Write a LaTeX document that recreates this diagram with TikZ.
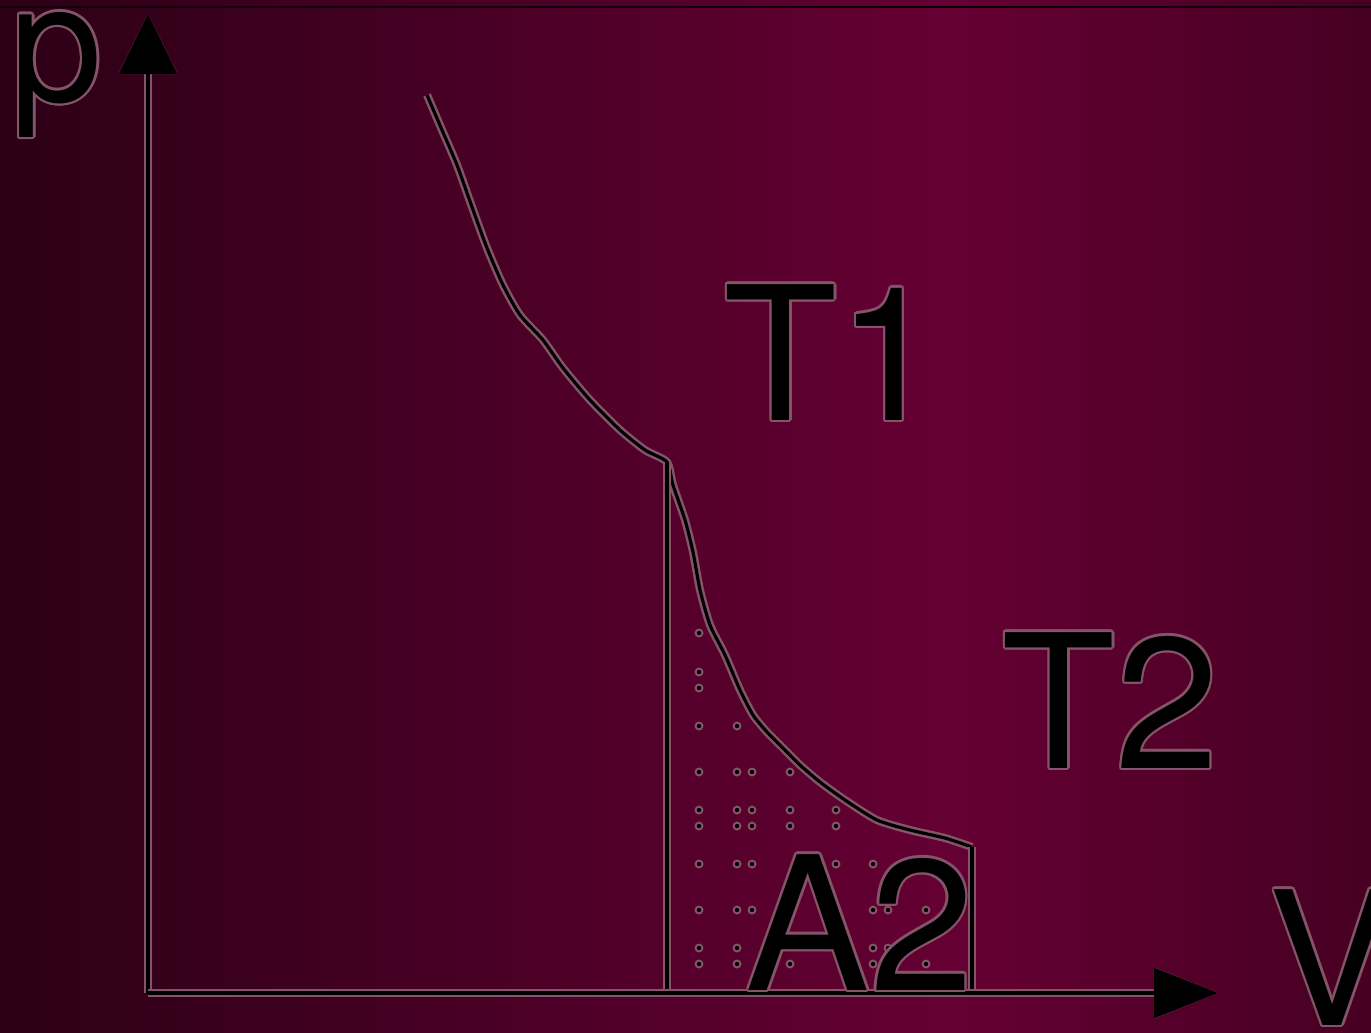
\documentclass[tikz,border=0pt]{standalone}
\usepackage{fontspec}
\setmainfont{TeX Gyre Heros}
\usetikzlibrary{arrows.meta,calc}

\definecolor{bgleft}{RGB}{44,0,22}
\definecolor{bgmid}{RGB}{101,0,51}
\definecolor{bgright}{RGB}{70,0,34}
\definecolor{halo}{RGB}{132,84,104}

\tikzset{
  isoline/.style={draw=black, line width=0.9pt, line join=round,
    preaction={draw=halo, line width=2.3pt}},
  axisline/.style={draw=black, line width=0.9pt,
    -{Triangle[length=#1]},
    preaction={draw=halo, line width=2.3pt, -{Triangle[length=#1, line width=1.4pt]}}},
  lbl/.style={font=\fontsize{53}{60}\selectfont, inner sep=0pt,
    anchor=base west, text=black},
}

% label with a thin halo round the glyphs
\newcommand{\halolabel}[4][]{%
  \foreach \ang in {0,30,...,330}
    \node[lbl, #1, text=halo] at ($(#3)+(\ang:2.3)$) {#4};
  \node[lbl, #1] (#2) at (#3) {#4};}

\begin{document}
\begin{tikzpicture}[x=0.01cm, y=-0.01cm]
    \useasboundingbox (0,0) rectangle (1371,1032);
    % background
    \shade[left color=bgleft, right color=bgmid, draw=none] (0,0) rectangle (950,1032);
    \shade[left color=bgmid, right color=bgright, draw=none] (950,0) rectangle (1371,1032);
    \draw[color=black!60!bgleft, line width=0.6pt] (0,7) -- (1371,7);

    % points of the diagram
    \coordinate (origin) at (148,993);
    \coordinate (ptip) at (148,14);
    \coordinate (vtip) at (1218,993);
    \coordinate (left top) at (667,462);
    \coordinate (left foot) at (667,993);
    \coordinate (right top) at (972,847);
    \coordinate (right foot) at (972,993);

    % dots of the area A2
    \foreach \dx/\dy in {699/633, 699/672, 699/688,
        699/726, 737/726,
        699/772, 737/772, 752/772, 790/772,
        699/810, 737/810, 752/810, 790/810, 836/810,
        699/826, 737/826, 752/826, 790/826, 836/826,
        699/864, 737/864, 752/864, 836/864, 873/864,
        699/910, 737/910, 752/910, 873/910, 888/910, 926/910,
        699/948, 737/948, 873/948, 888/948,
        699/964, 737/964, 790/964, 873/964, 926/964}
    {
      \fill[halo] (\dx,\dy) circle (4.5);
      \fill[black] (\dx,\dy) circle (2.2);
    }

    % isotherm
    \draw[isoline] plot[smooth, tension=0.4] coordinates {
      (427,95) (442,130) (457,165) (472,207) (487,248) (503,285)
      (520,315) (543,340) (563,368) (590,400) (620,430) (645,450)
      (left top) (673,485) (685,520) (693,552) (700,590) (710,625)
      (725,655) (740,690) (753,715) (767,732) (783,748) (800,765)
      (820,782) (845,800) (877,820) (910,830) (945,838) (right top)};
    \draw[isoline] (left top) -- (left foot);
    \draw[isoline] (right top) -- (right foot);

    % axes
    \draw[axisline={6mm, width=5.8mm}] (origin) -- (ptip);
    \draw[axisline={6.4mm, width=5mm}] (origin) -- (vtip);

    % labels
    \halolabel[font=\fontsize{47}{54}\selectfont]{plabel}{10,101}{p}
    \halolabel{vlabel}{1268,1025}{V}
    \halolabel{tone}{723,420}{T1}
    \halolabel{ttwo}{1001,768}{T2}
    \halolabel{atwo}{745,990}{A2}
\end{tikzpicture}
\end{document}
